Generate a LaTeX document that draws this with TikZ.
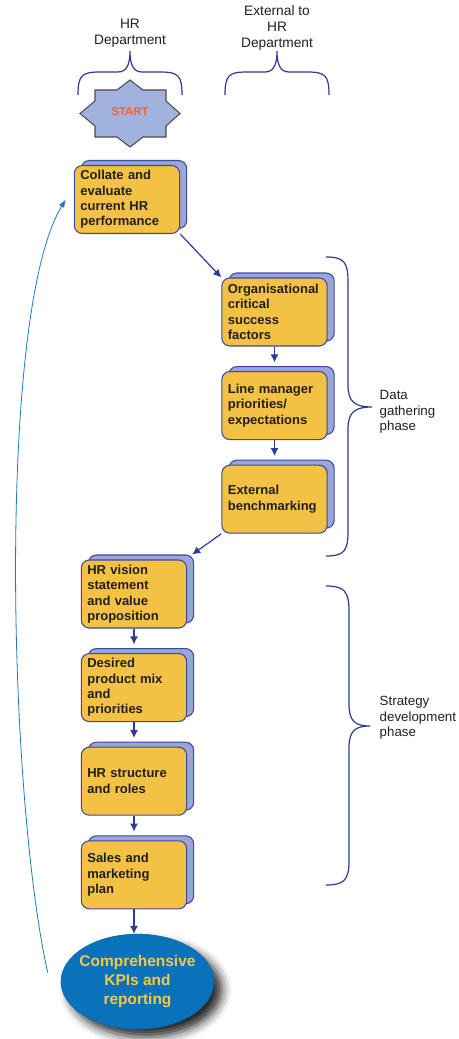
\documentclass[tikz,border=0pt]{standalone}
\usepackage{fontspec}
\setmainfont{Liberation Sans}
\usetikzlibrary{shapes.geometric, arrows.meta, positioning, shadows, shadows.blur}
\definecolor{boxfill}{HTML}{F3C244}
\definecolor{boxline}{HTML}{3D4A9E}
\definecolor{shadowlav}{HTML}{9BA5D7}
\definecolor{linkblue}{HTML}{2E3A94}
\definecolor{loopblue}{HTML}{1F78C1}
\definecolor{kpiblue}{HTML}{0A71BB}
\definecolor{kpiyellow}{HTML}{F6C945}
\definecolor{startfill}{HTML}{A0B2DD}
\definecolor{startred}{HTML}{E8663A}
\definecolor{textdark}{HTML}{231F20}
\tikzset{
  stepbox/.style = {rectangle, draw=boxline, fill=boxfill, line width=0.8pt,
    rounded corners=6pt, text width=70pt, align=left, inner xsep=4.5pt,
    minimum height=51pt, text=textdark,
    font=\bfseries\fontsize{9.75}{11.5}\selectfont,
    copy shadow={shadow xshift=5.25pt, shadow yshift=3.75pt, fill=shadowlav, draw=boxline}},
  kpibox/.style = {ellipse, fill=kpiblue, draw=kpiblue!90!black, inner xsep=-3pt, inner ysep=0pt,
    minimum width=114.75pt, minimum height=71.25pt, align=center, text=kpiyellow,
    font=\bfseries\fontsize{11.6}{14.25}\selectfont,
    blur shadow={shadow xshift=6pt, shadow yshift=-6pt, shadow blur radius=7pt, shadow opacity=85}},
  label/.style = {align=center, text=textdark,
    font=\fontsize{10.3}{12}\selectfont},
  phase/.style = {align=left, anchor=west, text=textdark,
    font=\fontsize{10}{11.5}\selectfont},
  startstar/.style = {draw=black!70, fill=startfill, line width=0.8pt},
  arrow/.style = {draw=linkblue, line width=0.9pt, -{Latex[length=6pt,width=6pt]}},
  looparrow/.style = {draw=loopblue, line width=0.6pt, -{Latex[length=6pt,width=4.5pt]}},
  brace/.style = {draw=linkblue, line width=0.9pt},
}
\begin{document}
\begin{tikzpicture}[x=0.75pt, y=-0.75pt, node distance=18.4pt]
  \useasboundingbox (0,0) rectangle (458,1039);

  % column headings
  \node[label] (hrdept) at (130,33) {HR\\Department};
  \node[label] (extdept) at (277,28) {External to\\HR\\Department};
  \draw[brace] (78,95) .. controls (78,75) and (82,72) .. (100,72) -- (118,72)
    .. controls (127,72) and (130,64) .. (130,51)
    .. controls (130,64) and (133,72) .. (142,72) -- (160,72)
    .. controls (178,72) and (182,75) .. (182,95);
  \draw[brace] (225,95) .. controls (225,75) and (229,72) .. (247,72) -- (265,72)
    .. controls (274,72) and (277,64) .. (277,51)
    .. controls (277,64) and (280,72) .. (289,72) -- (307,72)
    .. controls (325,72) and (329,75) .. (329,95);

  % start
  \draw[startstar] (130,80) -- (143,90) -- (166,90) -- (166,101) -- (180,113.5)
    -- (166,126) -- (166,137) -- (143,137) -- (130,147) -- (117,137) -- (95,137)
    -- (95,126) -- (80,113.5) -- (95,101) -- (95,90) -- (117,90) -- cycle;
  \node[text=startred, font=\bfseries\fontsize{8.5}{10}\selectfont] (start) at (130,112) {START};

  % steps
  \node[stepbox] (collate) at (127,199.5) {Collate and\\evaluate\\current HR\\performance};
  \node[stepbox] (org) at (274.5,312) {Organisational\\critical\\success\\factors};
  \node[stepbox, below=of org] (linemgr) {Line manager\\priorities/\\expectations};
  \node[stepbox, below=of linemgr] (bench) {External\\benchmarking};
  \node[stepbox] (vision) at (134,594) {HR vision\\statement\\and value\\proposition};
  \node[stepbox, below=of vision] (desired) {Desired\\product mix\\and\\priorities};
  \node[stepbox, below=of desired] (structure) {HR structure\\and roles};
  \node[stepbox, below=of structure] (sales) {Sales and\\marketing\\plan};
  \node[kpibox, below=of sales, xshift=2.6pt] (kpi) {Comprehensive\\KPIs and\\reporting};

  \draw[arrow] (collate.south east) -- (org.north west);
  \draw[arrow, shorten >=6.5pt] (org) -- (linemgr);
  \draw[arrow, shorten >=6.5pt] (linemgr) -- (bench);
  \draw[arrow] (bench.south west) -- ([shift={(5,-5)}]vision.north east);
  \draw[arrow, shorten >=6.5pt] (vision) -- (desired);
  \draw[arrow, shorten >=6.5pt] (desired) -- (structure);
  \draw[arrow, shorten >=6.5pt] (structure) -- (sales);
  \draw[arrow] (sales.south) -- (sales.south |- kpi.north);
  \draw[looparrow] ([shift={(-13,-9)}]kpi.west) .. controls (8,794) and (-3,312) .. ([xshift=-6pt]collate.west);

  % phases
  \draw[brace] (326,257) .. controls (344,257) and (348,262) .. (348,282) -- (348,385)
    .. controls (348,402) and (355,407) .. (372,407)
    .. controls (355,407) and (348,412) .. (348,429) -- (348,532)
    .. controls (348,551) and (344,556) .. (326,556);
  \node[phase] (gather) at (375,412) {Data\\gathering\\phase};
  \draw[brace] (326,586) .. controls (344,586) and (349,591) .. (349,611) -- (349,704)
    .. controls (349,721) and (355,726) .. (370,726)
    .. controls (355,726) and (349,731) .. (349,748) -- (349,861)
    .. controls (349,880) and (344,885) .. (326,885);
  \node[phase] (strategy) at (375,718) {Strategy\\development\\phase};
\end{tikzpicture}
\end{document}
